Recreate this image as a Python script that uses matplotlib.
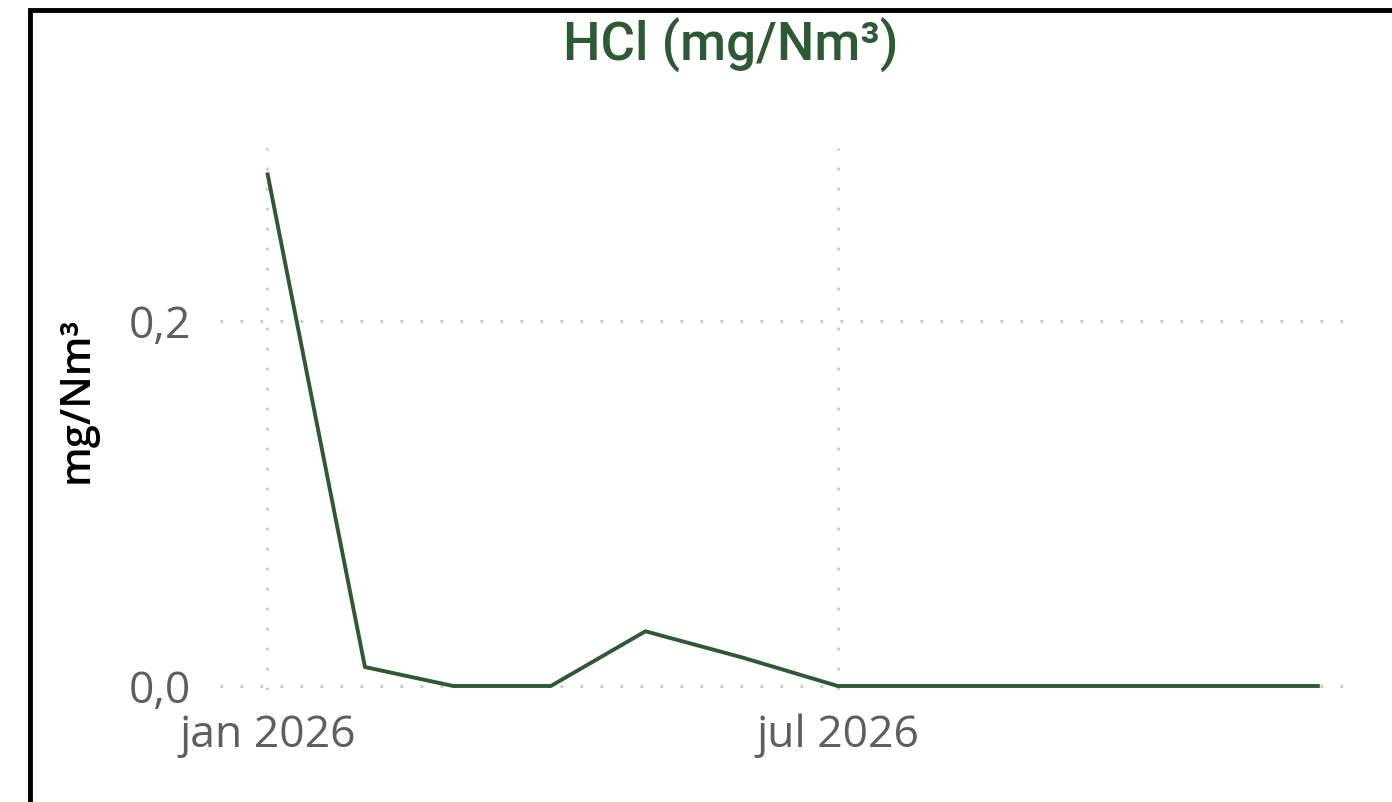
import matplotlib
matplotlib.use("Agg")
import matplotlib.pyplot as plt
from matplotlib.patches import Rectangle
import datetime as dt

# monthly HCl values, 2026
months = [dt.date(2026, m, 1) for m in range(1, 13)]
hcl = [0.2816, 0.0104, 0.0, 0.0, 0.030, 0.0155, 0.0, 0.0, 0.0, 0.0, 0.0, 0.0]
y_ticks = [0.0, 0.2]
y_tick_labels = ["0,0", "0,2"]
x_ticks = [dt.date(2026, 1, 1), dt.date(2026, 7, 1)]
x_tick_labels = ["jan 2026", "jul 2026"]

green = "#2D5A34"
grey = "#605E5C"

fig = plt.figure(figsize=(13.92, 8.02), dpi=100)
W, H = 1392, 802

# outer frame
fig.patches.append(Rectangle((30 / W, -0.1), 1.2, (802 - 10) / H + 0.1,
                             transform=fig.transFigure, fill=False,
                             edgecolor="black", linewidth=3.5))

ax = fig.add_axes([220 / W, (H - 690) / H, (1345 - 220) / W, (690 - 148) / H])
ax.plot(months, hcl, color=green, linewidth=2.8, solid_capstyle="butt")

ax.set_xlim(dt.date(2025, 12, 17), dt.date(2026, 12, 9))
ax.set_ylim(-0.0022, 0.295)

ax.set_xticks(x_ticks)
ax.set_xticklabels(x_tick_labels)
ax.set_yticks(y_ticks)
ax.set_yticklabels(y_tick_labels)
ax.tick_params(length=0, labelsize=32, labelcolor=grey)
ax.tick_params(axis="x", pad=17)
ax.tick_params(axis="y", pad=21)
for lab in ax.get_xticklabels() + ax.get_yticklabels():
    lab.set_fontfamily("Open Sans")

ax.grid(True, color="#C8C8C8", linewidth=2, linestyle=(0, (1, 6.2)))
ax.set_axisbelow(True)
for s in ax.spines.values():
    s.set_visible(False)

ax.set_ylabel("mg/Nm³", fontsize=30, fontweight="semibold", color="black",
              family="Open Sans")
ax.yaxis.set_label_coords(-(220 - 98) / (1345 - 220), (690 - 400) / (690 - 148))

fig.text(731 / W, 1 - 45 / H, "HCl (mg/Nm³)", ha="center", va="center",
         fontsize=38, color=green, family="Roboto", fontweight="medium")

fig.savefig("out.png", dpi=100)
